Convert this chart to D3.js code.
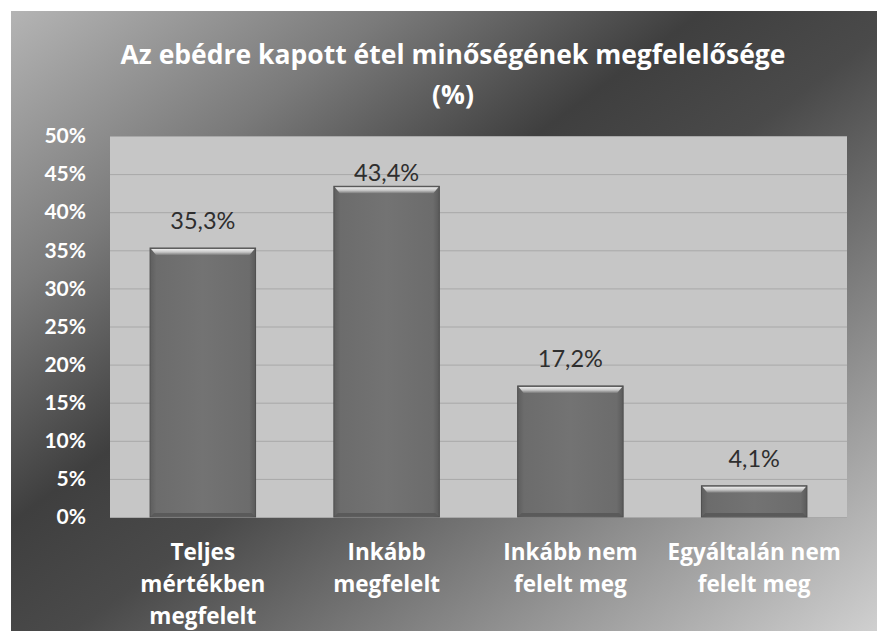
<!DOCTYPE html>
<html>
<head>
<meta charset="utf-8">
<script src="https://cdn.jsdelivr.net/npm/d3@7"></script>
<style>
  html, body { margin: 0; padding: 0; background: #ffffff; }
  svg { display: block; }
</style>
</head>
<body>
<svg id="chart" width="880" height="631"></svg>
<script>
// ---- data ----
const categories = ["Teljes\nmértékben\nmegfelelt", "Inkább\nmegfelelt", "Inkább nem\nfelelt meg", "Egyáltalán nem\nfelelt meg"];
const values = [35.3, 43.4, 17.2, 4.1];
const yTicks = [0, 5, 10, 15, 20, 25, 30, 35, 40, 45, 50];
const titleLines = ["Az ebédre kapott étel minőségének megfelelősége", "(%)"];

// ---- layout ----
const frame = { x: 11, y: 11, w: 866, h: 640 };
const plot = { left: 110, right: 847, top: 136, bottom: 517 };
const OPEN = "'Open Sans', Lato, sans-serif";
const LATO = "Lato, 'Open Sans', sans-serif";

const svg = d3.select("#chart");
const defs = svg.append("defs");

const bg = defs.append("linearGradient").attr("id", "bgGrad")
  .attr("x1", 0).attr("y1", 0).attr("x2", 1).attr("y2", 1);
[[0, "#b4b4b4"], [0.22, "#7a7a7a"], [0.40, "#3f3f3f"], [0.52, "#4a4a4a"], [0.72, "#838383"], [1, "#d4d4d4"]]
  .forEach(([o, c]) => bg.append("stop").attr("offset", o).attr("stop-color", c));

const bevel = defs.append("linearGradient").attr("id", "bevelGrad")
  .attr("x1", 0).attr("y1", 0).attr("x2", 0).attr("y2", 1);
[[0, "#ececec"], [0.5, "#c8c8c8"], [1, "#7a7a7a"]]
  .forEach(([o, c]) => bevel.append("stop").attr("offset", o).attr("stop-color", c));

const body = defs.append("linearGradient").attr("id", "bodyGrad")
  .attr("x1", 0).attr("y1", 0).attr("x2", 1).attr("y2", 0);
[[0, "#5e5e5e"], [0.06, "#6c6c6c"], [0.5, "#737373"], [0.94, "#6c6c6c"], [1, "#5a5a5a"]]
  .forEach(([o, c]) => body.append("stop").attr("offset", o).attr("stop-color", c));

// background frame
svg.append("rect").attr("x", frame.x).attr("y", frame.y)
  .attr("width", frame.w).attr("height", frame.h).attr("fill", "url(#bgGrad)");

// plot area
svg.append("rect").attr("x", plot.left).attr("y", plot.top)
  .attr("width", plot.right - plot.left).attr("height", plot.bottom - plot.top)
  .attr("fill", "#c6c6c6");

// scales
const x = d3.scaleBand().domain(categories).range([plot.left, plot.right])
  .paddingInner(0.426).paddingOuter(0.218);
const y = d3.scaleLinear().domain([0, 50]).range([plot.bottom, plot.top]);

// gridlines
const grid = svg.append("g").attr("transform", `translate(${plot.left},0)`)
  .call(d3.axisLeft(y).tickValues(yTicks).tickSize(-(plot.right - plot.left)).tickFormat(""));
grid.select(".domain").remove();
grid.selectAll(".tick line").attr("stroke", "#a8a8a8").attr("stroke-width", 1);

// y axis labels
const yAxis = svg.append("g").attr("transform", `translate(88,0)`)
  .call(d3.axisLeft(y).tickValues(yTicks).tickSize(0).tickPadding(2).tickFormat(d => d + "%"));
yAxis.select(".domain").remove();
yAxis.selectAll("text").attr("fill", "#ffffff")
  .style("font-weight", "bold").style("font-size", "21px").style("font-family", LATO);

// bars
const bars = svg.append("g").selectAll("g").data(values).join("g");
bars.append("rect")
  .attr("x", (d, i) => x(categories[i]))
  .attr("y", d => y(d))
  .attr("width", x.bandwidth())
  .attr("height", d => y(0) - y(d))
  .attr("fill", "url(#bodyGrad)")
  .attr("stroke", "#4e4e4e").attr("stroke-width", 1);
bars.append("path")
  .attr("d", (d, i) => {
    const x0 = x(categories[i]) + 1, x1 = x(categories[i]) + x.bandwidth() - 1, y0 = y(d) + 1;
    return `M${x0},${y0}L${x1},${y0}L${x1 - 5},${y0 + 6}L${x0 + 5},${y0 + 6}Z`;
  })
  .attr("fill", "url(#bevelGrad)");
bars.append("path")
  .attr("d", (d, i) => {
    const x0 = x(categories[i]) + 1, x1 = x(categories[i]) + x.bandwidth() - 1, yb = y(0) - 1;
    return `M${x0},${yb}L${x1},${yb}L${x1 - 3},${yb - 3}L${x0 + 3},${yb - 3}Z`;
  })
  .attr("fill", "#5a5a5a");

// value labels
const fmt = v => d3.format(".1f")(v).replace(".", ",") + "%";
svg.append("g").selectAll("text").data(values).join("text")
  .attr("x", (d, i) => x(categories[i]) + x.bandwidth() / 2)
  .attr("y", (d, i) => y(d) - (i === 1 ? 5 : 19))
  .attr("text-anchor", "middle")
  .attr("fill", "#2e2e2e")
  .style("font-size", "23.5px").style("font-family", LATO)
  .text(fmt);

// x axis labels
const xAxis = svg.append("g").attr("transform", `translate(0,${plot.bottom})`)
  .call(d3.axisBottom(x).tickSize(0).tickFormat(""));
xAxis.select(".domain").remove();
xAxis.selectAll(".tick").each(function (d) {
  const t = d3.select(this).append("text")
    .attr("text-anchor", "middle").attr("fill", "#ffffff")
    .style("font-weight", "bold").style("font-size", "22.5px").style("font-family", OPEN);
  d.split("\n").forEach((line, k) => {
    t.append("tspan").attr("x", 0).attr("y", 43 + k * 32).text(line);
  });
});

// title
svg.append("g").selectAll("text").data(titleLines).join("text")
  .attr("x", 453)
  .attr("y", (d, i) => 64 + i * 40)
  .attr("text-anchor", "middle")
  .attr("fill", "#ffffff")
  .style("font-weight", "bold").style("font-size", "26.5px").style("font-family", OPEN)
  .text(d => d);
</script>
</body>
</html>
